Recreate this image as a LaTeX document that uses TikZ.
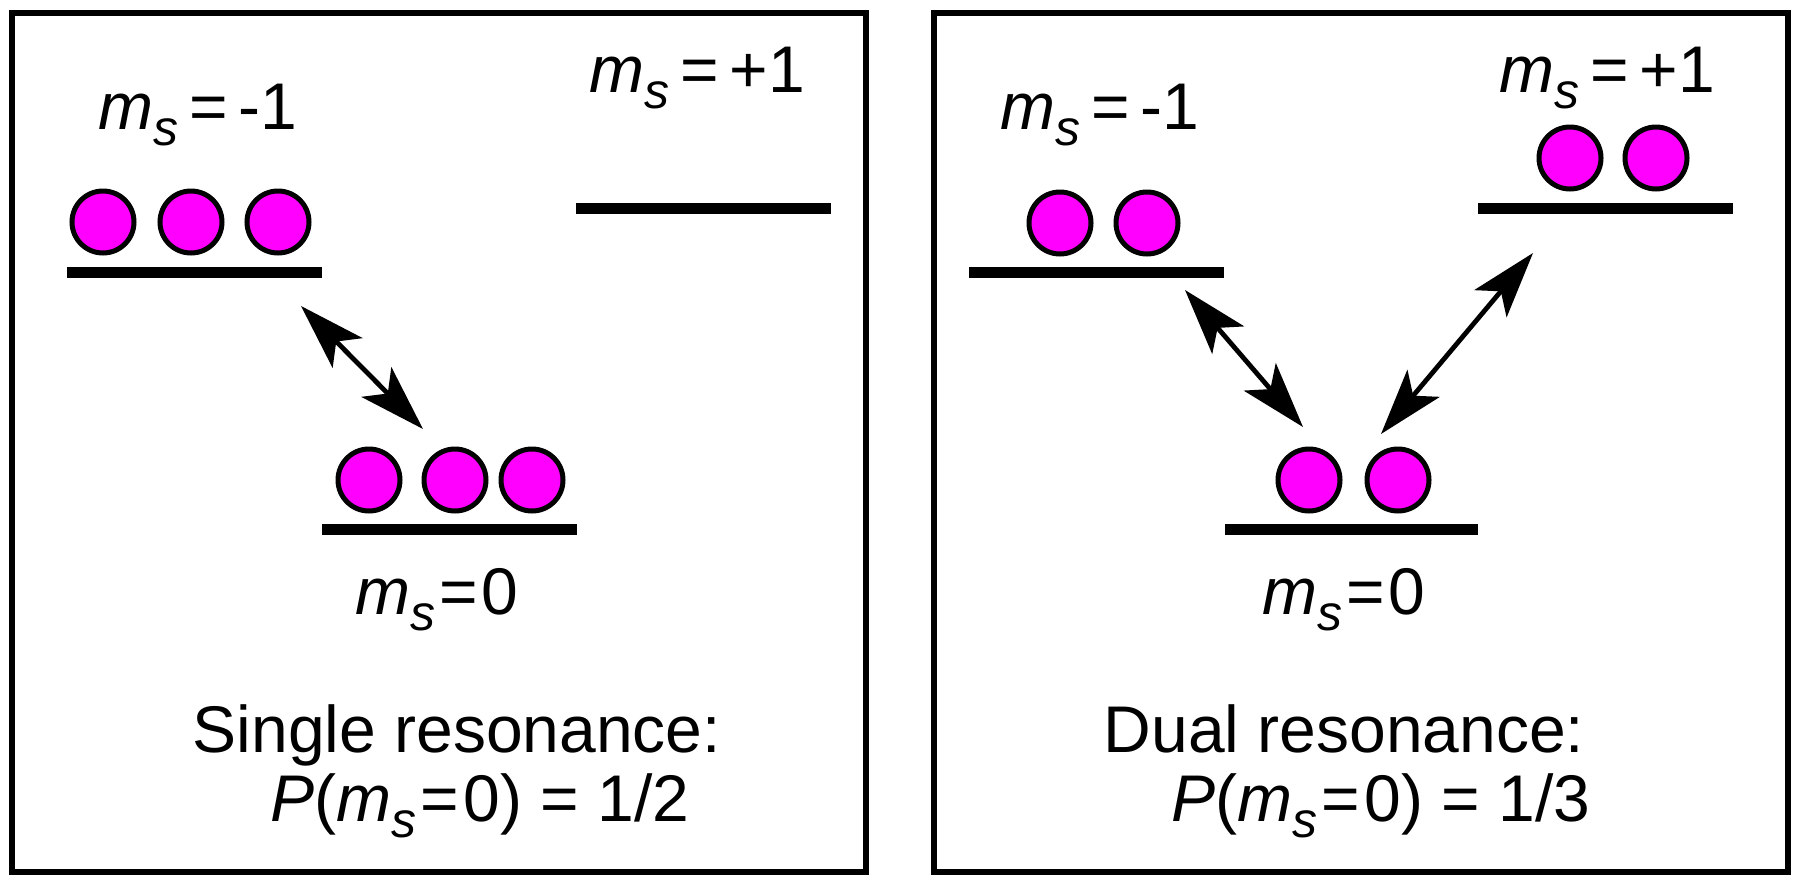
\documentclass[tikz,border=0pt]{standalone}
\usepackage{fontspec}
\setmainfont{Liberation Sans}
\usetikzlibrary{arrows.meta}
\definecolor{spinpink}{RGB}{255,0,255}
\newcommand{\msub}{\textit{m}\raisebox{-8pt}{\fontsize{25}{25}\selectfont\textit{s}}}

\begin{document}
\begin{tikzpicture}[x=0.5pt,y=-0.5pt,
  panel/.style={line width=2.8pt},
  level/.style={line width=5.5pt},
  spin/.style={fill=spinpink,draw=black,line width=2.5pt},
  label/.style={font=\fontsize{33}{40}\selectfont,anchor=base,inner sep=0pt},
  trans/.style={line width=2.4pt,{Stealth[length=33pt,width=21pt,inset=8pt]}-{Stealth[length=33pt,width=21pt,inset=8pt]}}]
\useasboundingbox (0,0) rectangle (1800,884);

% single resonance
\begin{scope}
\draw[panel] (12,13) rectangle (866,872);
\draw[level] (67,272.5) -- (322,272.5);
\draw[level] (322,529.5) -- (577,529.5);
\draw[level] (576,208.5) -- (831,208.5);
\foreach \x in {103,191,278}
   \filldraw[spin] (\x,222) circle[radius=15.5pt];
\foreach \x in {369,455,532}
   \filldraw[spin] (\x,480) circle[radius=15.5pt];
\node[label] (lminus) at (198,129) {\msub\,=\,-1};
\node[label] (lplus) at (697,92) {\msub\,=\,+1};
\node[label] (lzero) at (437,614) {\msub\hspace{2pt}=\hspace{2pt}0};
\node[label] (lres) at (457,752) {Single resonance:};
\node[label] (lprob) at (480,821) {\textit{P}(\msub\hspace{2pt}=\hspace{2pt}0) = 1/2};
\coordinate (lup) at (301,306);
\coordinate (ldown) at (423,429);
\draw[trans] (lup) -- (ldown);
\end{scope}

% dual resonance
\begin{scope}
\draw[panel] (934,13) rectangle (1788,872);
\draw[level] (969,272.5) -- (1224,272.5);
\draw[level] (1225,529.5) -- (1478,529.5);
\draw[level] (1478,208.5) -- (1733,208.5);
\foreach \x in {1060,1147}
   \filldraw[spin] (\x,223) circle[radius=15.5pt];
\foreach \x in {1309,1398}
   \filldraw[spin] (\x,480) circle[radius=15.5pt];
\foreach \x in {1570,1656}
   \filldraw[spin] (\x,158) circle[radius=15.5pt];
\node[label] (rminus) at (1100,129) {\msub\,=\,-1};
\node[label] (rplus) at (1607,92) {\msub\,=\,+1};
\node[label] (rzero) at (1344,614) {\msub\hspace{2pt}=\hspace{2pt}0};
\node[label] (rres) at (1344,752) {Dual resonance:};
\node[label] (rprob) at (1381,821) {\textit{P}(\msub\hspace{2pt}=\hspace{2pt}0) = 1/3};
\coordinate (rupl) at (1185,290);
\coordinate (rdownl) at (1303,427);
\coordinate (rupr) at (1533,253);
\coordinate (rdownr) at (1381,434);
\draw[trans] (rupl) -- (rdownl);
\draw[trans] (rupr) -- (rdownr);
\end{scope}

\end{tikzpicture}
\end{document}
